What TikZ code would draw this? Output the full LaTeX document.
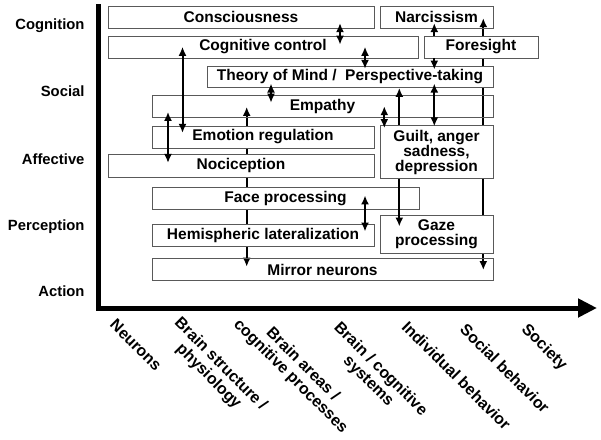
\documentclass[tikz,border=0pt]{standalone}
\usepackage{fontspec}
\setmainfont{Liberation Sans}
\usetikzlibrary{arrows.meta}
\pgfdeclarelayer{back}
\pgfsetlayers{back,main}

\begin{document}
\begin{tikzpicture}[x=1pt, y=-1pt,
                        box/.style={draw=black!65, line width=0.8pt, minimum height=22pt, inner sep=0pt, align=center, font=\fontsize{15.5}{15}\selectfont\bfseries},
                        cover/.style={box, fill=white},
                        link/.style={line width=2pt, >={Latex[length=9pt,width=8pt]}},
                        ylabel/.style={anchor=base east, font=\fontsize{14.8}{16}\selectfont\bfseries},
                        xlabel/.style={rotate=-45, align=center, inner sep=0pt, font=\fontsize{16}{17}\selectfont\bfseries}]
                        \useasboundingbox (0, 0) rectangle (601, 439);

                        \node (consc) at (241, 17) [box, minimum width=266pt] {Consciousness};
                        \node (narc) at (436.5, 17) [box, minimum width=113pt] {Narcissism};
                        \node (cogctl) at (263, 47) [box, minimum width=310pt] {Cognitive control};
                        \node (fore) at (481, 47) [cover, minimum width=114pt] {Foresight};
                        \node (tom) at (350, 76.7) [cover, minimum width=286pt, minimum height=21.5pt] {Theory of Mind /\ \ Perspective-taking};
                        \node (emp) at (322.5, 106.8) [box, minimum width=341pt] {Empathy};
                        \node (emoreg) at (263, 137) [cover, minimum width=222pt] {Emotion regulation};
                        \node (guilt) at (436.5, 152) [cover, minimum width=113pt, minimum height=53pt] {Guilt, anger\\sadness,\\depression};
                        \node (noci) at (241, 165.8) [cover, minimum width=266pt, minimum height=23pt] {Nociception};
                        \node (face) at (285.5, 198.3) [cover, minimum width=267pt, minimum height=21.5pt] {Face processing};
                        \node (hemi) at (263, 235.5) [cover, minimum width=222pt] {Hemispheric lateralization};
                        \node (gaze) at (436.5, 234.2) [cover, minimum width=113pt, minimum height=38pt] {Gaze\\processing};
                        \node (mirror) at (322.5, 269.7) [box, minimum width=341pt] {Mirror neurons};

                        \node (cog) at (88, 29.3) [ylabel] {Cognition};
                        \node (soc) at (88, 96) [ylabel] {Social};
                        \node (aff) at (88, 164) [ylabel] {Affective};
                        \node (perc) at (88, 230.7) [ylabel] {Perception};
                        \node (act) at (88, 296.7) [ylabel] {Action};

                        \node (neur) at (136, 345) [xlabel] {Neurons};
                        \node (struct) at (214.5, 370.5) [xlabel] {Brain structure /\\physiology};
                        \node (areas) at (296.5, 370.5) [xlabel] {Brain areas /\\cognitive processes};
                        \node (sys) at (374.2, 375.5) [xlabel] {Brain / cognitive\\systems};
                        \node (indiv) at (456.5, 375.5) [xlabel] {Individual behavior};
                        \node (socbeh) at (505, 368.5) [xlabel] {Social behavior};
                        \node (society) at (544, 347.5) [xlabel] {Society};

                        \coordinate (top) at (98.5, 4);
                        \coordinate (orig) at (98.5, 308);
                        \coordinate (xend) at (597, 308);
                        \draw[line width=5pt, -{Triangle[length=19pt,width=18pt]}] (top) -- (orig) -- (xend);

                        \coordinate (x1) at (340, 0);
                        \coordinate (x2) at (182.5, 0);
                        \coordinate (x3) at (365, 0);
                        \coordinate (x4) at (434.3, 0);
                        \coordinate (x5) at (483.3, 0);
                        \coordinate (x6) at (271, 0);
                        \coordinate (x7) at (246.7, 0);
                        \coordinate (x8) at (168, 0);
                        \coordinate (x9) at (399.3, 0);
                        \coordinate (x11) at (384.3, 0);

                        \begin{pgfonlayer}{back}
                        \draw[link, <->, shorten <=-10.3pt, shorten >=-11.7pt] (narc.south -| x5) -- (mirror.north -| x5);
                        \draw[link, <->, shorten <=-11.3pt, shorten >=-8.4pt] (emp.south -| x7) -- (mirror.north -| x7);
                        \end{pgfonlayer}

                        \draw[link, <->, shorten <=-5.3pt, shorten >=-9pt] (consc.south -| x1) -- (cogctl.north -| x1);
                        \draw[link, <->, shorten <=-11.6pt, shorten >=-7.3pt] (cogctl.south -| x2) -- (emoreg.north -| x2);
                        \draw[link, <->, shorten <=-11.6pt, shorten >=-3.3pt] (cogctl.south -| x3) -- (tom.north -| x3);
                        \draw[link, ->, shorten >=-5.3pt] (fore.north -| x4) -- (narc.south -| x4);
                        \draw[link, ->, shorten >=-4pt] (fore.south -| x4) -- (tom.north -| x4);
                        \draw[link, <->, shorten <=-4.3pt, shorten >=-7.3pt] (tom.south -| x6) -- (emp.north -| x6);
                        \draw[link, <->, shorten <=-6.3pt, shorten >=-9pt] (emp.south -| x8) -- (noci.north -| x8);
                        \draw[link, ->] (guilt.north -| x9) -- (tom.south -| x9);
                        \draw[link, ->, shorten >=-11.7pt] (guilt.south -| x9) -- (gaze.north -| x9);
                        \draw[link, <->, shorten <=-4.3pt, shorten >=-1.2pt] (tom.south -| x4) -- (guilt.north -| x4);
                        \draw[link, <->, shorten <=-12pt, shorten >=-3pt] (emp.south -| x11) -- (guilt.north -| x11);
                        \draw[link, <->, shorten <=-14pt, shorten >=-7.4pt] (face.south -| x3) -- (hemi.north -| x3);
                    \end{tikzpicture}
\end{document}
